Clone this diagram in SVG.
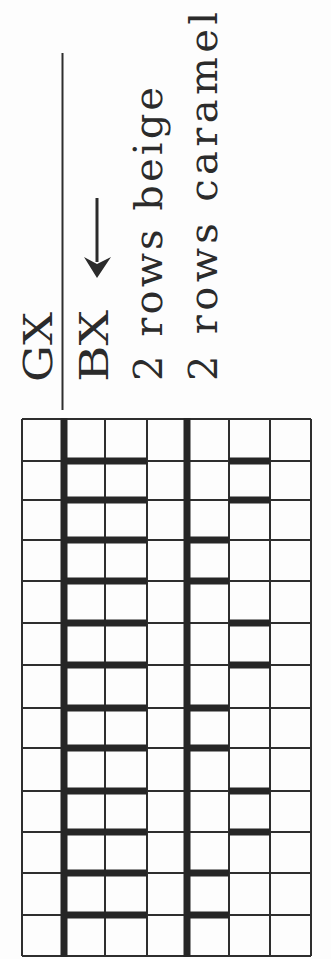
<svg xmlns="http://www.w3.org/2000/svg" width="331" height="959" viewBox="0 0 331 959">
<style>
.lbl{font-family:"DejaVu Serif","Liberation Serif",serif;font-size:40px;fill:#2b2b2b}
.thin{stroke:#2e2e2e;stroke-width:2;fill:none}
.thick{stroke:#262626;stroke-width:7;fill:none}
.mark{stroke:#262626;stroke-width:7;fill:none}
</style>
<rect width="331" height="959" fill="#fdfdfd"/>
<g id="legend">
  <line class="thin" x1="62.5" y1="53" x2="62.5" y2="410"/>
  <text id="t-gx" class="lbl" transform="translate(52,382) rotate(-90)" textLength="70" lengthAdjust="spacingAndGlyphs">GX</text>
  <text id="t-bx" class="lbl" transform="translate(108,382) rotate(-90)" textLength="72" lengthAdjust="spacingAndGlyphs">BX</text>
  <g id="arrow">
    <line x1="97" y1="198" x2="97" y2="262" stroke="#2b2b2b" stroke-width="3"/>
    <path d="M84,257 L97,278 L111,257 L97,264 Z" fill="#2b2b2b"/>
  </g>
  <text id="t-beige" class="lbl" transform="translate(162,381) rotate(-90)" textLength="294" lengthAdjust="spacing">2 rows beige</text>
  <text id="t-caramel" class="lbl" transform="translate(217,381) rotate(-90)" textLength="369" lengthAdjust="spacing">2 rows caramel</text>
</g>
<g id="grid">
  <g id="grid-h" class="thin">
    <line x1="22" y1="419" x2="311" y2="419"/>
    <line x1="22" y1="461" x2="311" y2="461"/>
    <line x1="22" y1="500" x2="311" y2="500"/>
    <line x1="22" y1="540" x2="311" y2="540"/>
    <line x1="22" y1="581" x2="311" y2="581"/>
    <line x1="22" y1="623" x2="311" y2="623"/>
    <line x1="22" y1="665" x2="311" y2="665"/>
    <line x1="22" y1="708" x2="311" y2="708"/>
    <line x1="22" y1="748" x2="311" y2="748"/>
    <line x1="22" y1="791" x2="311" y2="791"/>
    <line x1="22" y1="832" x2="311" y2="832"/>
    <line x1="22" y1="873" x2="311" y2="873"/>
    <line x1="22" y1="915" x2="311" y2="915"/>
    <line x1="22" y1="956" x2="311" y2="956"/>
  </g>
  <g id="grid-v" class="thin">
    <line x1="22" y1="419" x2="22" y2="956"/>
    <line x1="105" y1="419" x2="105" y2="956"/>
    <line x1="147" y1="419" x2="147" y2="956"/>
    <line x1="229" y1="419" x2="229" y2="956"/>
    <line x1="270" y1="419" x2="270" y2="956"/>
    <line x1="311" y1="419" x2="311" y2="956"/>
  </g>
  <g id="grid-thick" class="thick">
    <line x1="64" y1="418" x2="64" y2="957"/>
    <line x1="187" y1="418" x2="187" y2="957"/>
  </g>
  <g id="marks-left" class="mark">
    <line x1="64" y1="461" x2="147" y2="461"/>
    <line x1="64" y1="500" x2="147" y2="500"/>
    <line x1="64" y1="540" x2="147" y2="540"/>
    <line x1="64" y1="581" x2="147" y2="581"/>
    <line x1="64" y1="623" x2="147" y2="623"/>
    <line x1="64" y1="665" x2="147" y2="665"/>
    <line x1="64" y1="708" x2="147" y2="708"/>
    <line x1="64" y1="748" x2="147" y2="748"/>
    <line x1="64" y1="791" x2="147" y2="791"/>
    <line x1="64" y1="832" x2="147" y2="832"/>
    <line x1="64" y1="873" x2="147" y2="873"/>
    <line x1="64" y1="915" x2="147" y2="915"/>
  </g>
  <g id="marks-right" class="mark">
    <line x1="229" y1="461" x2="270" y2="461"/>
    <line x1="229" y1="500" x2="270" y2="500"/>
    <line x1="187" y1="540" x2="229" y2="540"/>
    <line x1="187" y1="581" x2="229" y2="581"/>
    <line x1="229" y1="623" x2="270" y2="623"/>
    <line x1="229" y1="665" x2="270" y2="665"/>
    <line x1="187" y1="708" x2="229" y2="708"/>
    <line x1="187" y1="748" x2="229" y2="748"/>
    <line x1="229" y1="791" x2="270" y2="791"/>
    <line x1="229" y1="832" x2="270" y2="832"/>
    <line x1="187" y1="873" x2="229" y2="873"/>
    <line x1="187" y1="915" x2="229" y2="915"/>
  </g>
</g>
</svg>
